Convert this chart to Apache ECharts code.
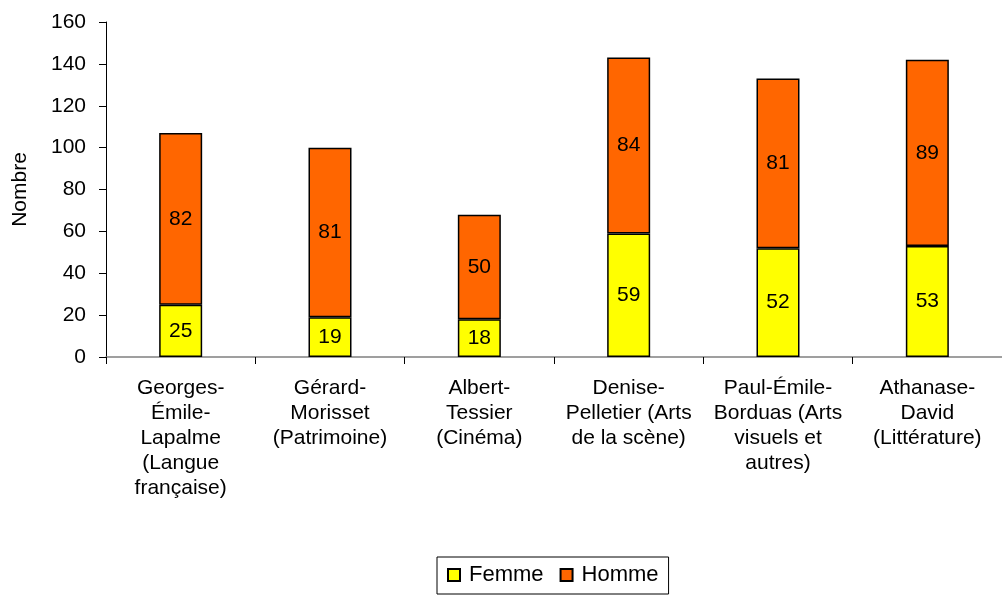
<!DOCTYPE html>
<html><head><meta charset="utf-8">
<script src="https://cdn.jsdelivr.net/npm/echarts@6/dist/echarts.min.js"></script>
<style>html,body{margin:0;padding:0;background:#fff}#c{width:1002px;height:595px}</style>
</head><body><div id="c"></div>
<script>
const categories = ["Georges-\nÉmile-\nLapalme\n(Langue\nfrançaise)", "Gérard-\nMorisset\n(Patrimoine)", "Albert-\nTessier\n(Cinéma)", "Denise-\nPelletier (Arts\nde la scène)", "Paul-Émile-\nBorduas (Arts\nvisuels et\nautres)", "Athanase-\nDavid\n(Littérature)"];
const femme = [25, 19, 18, 59, 52, 53];
const homme = [82, 81, 50, 84, 81, 89];
const font = "'Liberation Sans', Arial, sans-serif";
const chart = echarts.init(document.getElementById('c'));
const lbl = {show: true, position: 'inside', color: '#000', fontSize: 21, fontFamily: font};
chart.setOption({
  animation: false,
  grid: {left: 106, right: -8, top: 22, bottom: 238, containLabel: false},
  legend: {
    top: 557, left: 437, data: ['Femme', 'Homme'],
    borderColor: '#000', borderWidth: 1, padding: [7, 10, 8, 10],
    itemWidth: 12, itemHeight: 12, itemGap: 16, icon: 'rect',
    textStyle: {fontSize: 22, fontFamily: font, color: '#000', padding: [0, 0, 0, 4]}
  },
  xAxis: {
    type: 'category', data: categories,
    axisLine: {lineStyle: {color: '#808080', width: 1.5}},
    axisTick: {show: true, length: 7, lineStyle: {color: '#000'}},
    axisLabel: {fontSize: 21, fontFamily: font, color: '#000', lineHeight: 25, margin: 19, interval: 0}
  },
  yAxis: {
    type: 'value', min: 0, max: 160, interval: 20,
    name: 'Nombre', nameLocation: 'middle', nameGap: 75, nameRotate: 90,
    nameTextStyle: {fontSize: 21, fontFamily: font, color: '#000'},
    axisLine: {show: true, lineStyle: {color: '#000', width: 1}},
    axisTick: {show: true, inside: false, length: 7, lineStyle: {color: '#000'}},
    axisLabel: {fontSize: 21, fontFamily: font, color: '#000', margin: 20},
    splitLine: {show: false}
  },
  series: [
    {name: 'Femme', type: 'bar', stack: 's', data: femme, barWidth: 43,
     itemStyle: {color: '#FFFF00', borderColor: '#000', borderWidth: 1.5}, label: lbl},
    {name: 'Homme', type: 'bar', stack: 's', data: homme, barWidth: 43,
     itemStyle: {color: '#FF6600', borderColor: '#000', borderWidth: 1.5}, label: lbl}
  ]
});
</script></body></html>
